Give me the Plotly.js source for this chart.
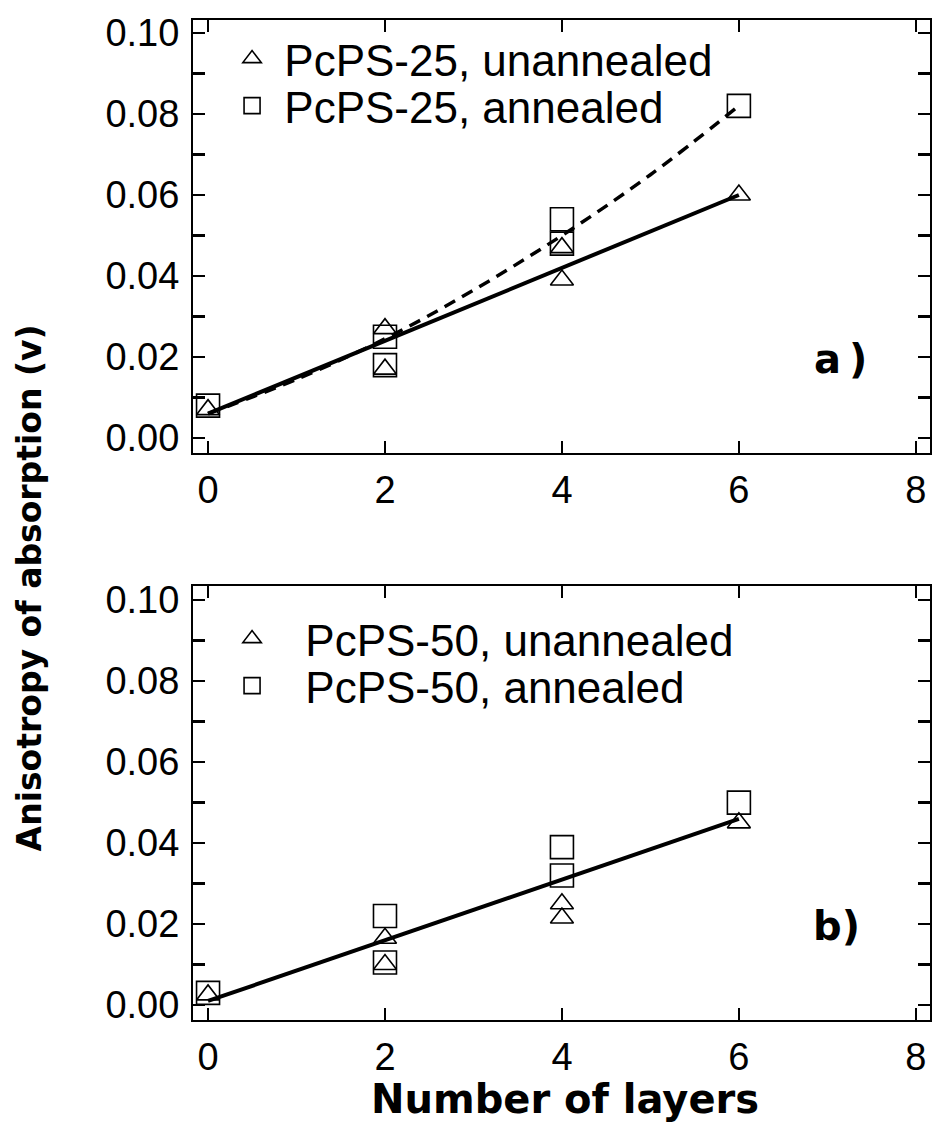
<!DOCTYPE html>
<html><head><meta charset="utf-8">
<script src="https://cdn.plot.ly/plotly-3.0.1.min.js"></script>
<style>html,body{margin:0;padding:0;background:#fff}</style>
</head><body><div id="chart" style="width:932px;height:1128px"></div>
<script>
// ---- data ----
const layers25Un = [0, 2, 2, 4, 4, 6];
const aniso25Un  = [0.007, 0.027, 0.017, 0.047, 0.039, 0.060];
const layers25An = [0, 2, 2, 4, 4, 6];
const aniso25An  = [0.008, 0.025, 0.018, 0.054, 0.048, 0.082];
const fit25UnX = [0, 6];
const fit25UnY = [0.006, 0.060];
const fit25AnX = [0, 1, 2, 3, 4, 5, 6];
const fit25AnY = [0.006, 0.0145, 0.0245, 0.0365, 0.050, 0.065, 0.082];
const layers50Un = [0, 2, 2, 4, 4, 6];
const aniso50Un  = [0.0025, 0.0165, 0.010, 0.025, 0.0215, 0.045];
const layers50An = [0, 2, 2, 4, 4, 6];
const aniso50An  = [0.003, 0.022, 0.0105, 0.039, 0.032, 0.050];
const fit50X = [0, 6];
const fit50Y = [0.001, 0.046];
const xTickVals = [0, 2, 4, 6, 8];
const yTickVals = [0, 0.02, 0.04, 0.06, 0.08, 0.10];
const yMinorVals = [0.01, 0.03, 0.05, 0.07, 0.09];
const legendNames = ['PcPS-25, unannealed', 'PcPS-25, annealed', 'PcPS-50, unannealed', 'PcPS-50, annealed'];
const yTitle = 'Anisotropy of absorption (v)';
const xTitle = 'Number of layers';
const panelLabels = ['a\u2009)', 'b)'];

// ---- styling ----
const BLACK = '#000';
const SANS = 'Liberation Sans, Arial, Helvetica, sans-serif';
const BOLD = 'DejaVu Sans, Liberation Sans, Arial, sans-serif';
const PAD_TOP = '\u00A0';
const PAD_BOTTOM = '\u00A0\u00A0\u2009';
const triMarker = {symbol: 'triangle-up-open', size: 20, color: BLACK, line: {width: 1.6, color: BLACK}};
const sqMarker  = {symbol: 'square-open', size: 23, color: BLACK, line: {width: 1.6, color: BLACK}};

const traces = [
  {x: layers25Un, y: aniso25Un, mode: 'markers', marker: triMarker, name: PAD_TOP + legendNames[0], xaxis: 'x', yaxis: 'y', legend: 'legend'},
  {x: layers25An, y: aniso25An, mode: 'markers', marker: sqMarker, name: PAD_TOP + legendNames[1], xaxis: 'x', yaxis: 'y', legend: 'legend2'},
  {x: fit25AnX, y: fit25AnY, mode: 'lines', line: {color: BLACK, width: 3.5, dash: '12px,8px', shape: 'spline'}, showlegend: false, xaxis: 'x', yaxis: 'y'},
  {x: fit25UnX, y: fit25UnY, mode: 'lines', line: {color: BLACK, width: 4}, showlegend: false, xaxis: 'x', yaxis: 'y'},
  {x: layers50Un, y: aniso50Un, mode: 'markers', marker: triMarker, name: PAD_BOTTOM + legendNames[2], xaxis: 'x2', yaxis: 'y2', legend: 'legend3'},
  {x: layers50An, y: aniso50An, mode: 'markers', marker: sqMarker, name: PAD_BOTTOM + legendNames[3], xaxis: 'x2', yaxis: 'y2', legend: 'legend4'},
  {x: fit50X, y: fit50Y, mode: 'lines', line: {color: BLACK, width: 4}, showlegend: false, xaxis: 'x2', yaxis: 'y2'}
];

function xAxis(anchor) {
  return {
    anchor: anchor, domain: [0, 1], range: [-0.17, 8.16],
    tickmode: 'array', tickvals: xTickVals,
    ticks: 'inside', ticklen: 12, tickwidth: 2.5, tickcolor: BLACK,
    showline: true, linewidth: 2, linecolor: BLACK, mirror: 'ticks',
    showgrid: false, zeroline: false,
    tickfont: {family: SANS, size: 38, color: BLACK},
    ticklabelstandoff: 2
  };
}
function yAxis(anchor, domain, range) {
  return {
    anchor: anchor, domain: domain, range: range,
    tickmode: 'array', tickvals: yTickVals, tickformat: '.2f',
    ticks: 'inside', ticklen: 12, tickwidth: 2.5, tickcolor: BLACK,
    showline: true, linewidth: 2, linecolor: BLACK, mirror: 'ticks',
    showgrid: false, zeroline: false,
    minor: {tickmode: 'array', tickvals: yMinorVals, ticks: 'inside', ticklen: 12, tickwidth: 2.5, tickcolor: BLACK, showgrid: false},
    tickfont: {family: SANS, size: 38, color: BLACK},
    ticklabelstandoff: 4
  };
}
function legendAt(x, y) {
  return {x: x, y: y, xref: 'paper', yref: 'paper', xanchor: 'left', yanchor: 'middle',
          bgcolor: 'rgba(0,0,0,0)', borderwidth: 0, itemwidth: 30,
          font: {family: SANS, size: 44, color: BLACK}};
}

const layout = {
  width: 932, height: 1128,
  margin: {l: 193, r: 2, t: 20, b: 108},
  paper_bgcolor: '#fff', plot_bgcolor: '#fff',
  showlegend: true,
  xaxis: xAxis('y'),
  yaxis: yAxis('x', [0.567, 1], [-0.0037, 0.1032]),
  xaxis2: xAxis('y2'),
  yaxis2: yAxis('x2', [0, 0.434], [-0.0037, 0.1035]),
  legend: legendAt(0.053, 0.961),
  legend2: legendAt(0.053, 0.914),
  legend3: legendAt(0.053, 0.381),
  legend4: legendAt(0.053, 0.334),
  annotations: [
    {text: yTitle, xref: 'paper', yref: 'paper', x: -0.222, y: 0.432, xanchor: 'center', yanchor: 'middle',
     textangle: -90, showarrow: false, font: {family: BOLD, size: 33, weight: 'bold', color: BLACK}},
    {text: xTitle, xref: 'paper', yref: 'paper', x: 0.505, y: -0.079, xanchor: 'center', yanchor: 'middle',
     showarrow: false, font: {family: BOLD, size: 40, weight: 'bold', color: BLACK}},
    {text: panelLabels[0], xref: 'x', yref: 'y', x: 7.15, y: 0.0195, showarrow: false,
     font: {family: BOLD, size: 40, weight: 'bold', color: BLACK}},
    {text: panelLabels[1], xref: 'x2', yref: 'y2', x: 7.1, y: 0.0195, showarrow: false,
     font: {family: BOLD, size: 40, weight: 'bold', color: BLACK}}
  ]
};

Plotly.newPlot('chart', traces, layout, {displayModeBar: false, staticPlot: true});
</script>
</body></html>
